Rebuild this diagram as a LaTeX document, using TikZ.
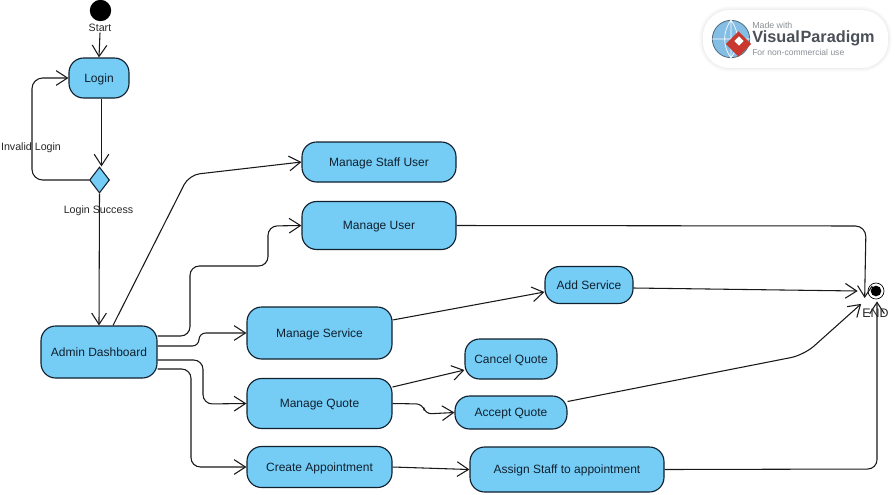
\documentclass[tikz,border=0pt]{standalone}
\usepackage{fontspec}
\setmainfont{Liberation Sans}
\usetikzlibrary{arrows.meta,calc,shapes.geometric,shadows.blur}
\definecolor{nodeblue}{HTML}{75CDF6}
\definecolor{inkblue}{HTML}{10202E}
\definecolor{vpgrey}{HTML}{4A5058}
\definecolor{vplight}{HTML}{8A8F95}
\definecolor{vpblue}{HTML}{5BA9DC}
\definecolor{vpred}{HTML}{C8382E}
\tikzset{
  x=0.75pt,y=-0.75pt,
  act/.style={draw=inkblue,line width=0.85pt,fill=nodeblue,rounded corners=11pt,inner sep=0pt,
    text height=6.4pt,text depth=0pt,
    font=\fontsize{9}{11}\selectfont,text=inkblue,anchor=center},
  lbl/.style={font=\fontsize{8}{10}\selectfont,text=black!85,inner sep=0.5pt},
  flow/.style={draw=black!90,line width=0.8pt,rounded corners=7pt,
    -{Straight Barb[length=8.5pt,width=11pt,line width=0.8pt]}},
}
\newcommand{\actnode}[6]{\node[act,minimum width=#3*0.75pt,minimum height=#4*0.75pt] (#1) at (#5,#6) {#2};}
\begin{document}
\begin{tikzpicture}
\useasboundingbox (0,0) rectangle (895,494);
% logo
\node[fill=white,rounded corners=20pt,minimum width=139pt,minimum height=43.5pt,inner sep=0pt,
  blur shadow={shadow blur steps=6,shadow xshift=0pt,shadow yshift=0pt,shadow blur radius=3pt,shadow opacity=15}] (logobox) at (795.5,39) {};
\node[circle,draw=vpgrey!70!vpblue,line width=0.6pt,fill=vpblue!75,minimum size=28pt,inner sep=0pt] (globe) at (731,39) {};
\draw[white,line width=0.5pt] (globe.north) -- (globe.south) (globe.west) -- (globe.east)
  (globe.north) to[bend left=35] (globe.south) (globe.north) to[bend right=35] (globe.south);
\node[diamond,fill=vpred,minimum size=19pt,inner sep=0pt] (gem) at (738.5,44) {};
\node[diamond,fill=white,minimum size=7pt,inner sep=0pt] (gemhole) at (739,41) {};
\node[anchor=west,inner sep=0pt,text=vplight,font=\fontsize{6.6}{8}\selectfont] (vp1) at (752,25) {Made with};
\node[anchor=west,inner sep=0pt,text=vpgrey,font=\fontsize{12.2}{14}\selectfont\bfseries] (vp2) at (752,38.5) {Visual\kern0.5pt Paradigm};
\node[anchor=west,inner sep=0pt,text=vplight,font=\fontsize{6.4}{8}\selectfont] (vp3) at (752,52.5) {For non-commercial use};
% start / end
\node[circle,fill=black,minimum size=16pt,inner sep=0pt] (start) at (100.5,10.5) {};
\node[lbl] (startl) at (100,28) {Start};
\node[circle,draw=black,line width=0.5pt,fill=white,minimum size=12pt,inner sep=0pt] (endo) at (876,291) {};
\node[circle,fill=black,minimum size=8pt,inner sep=0pt] (endi) at (876,291) {};
% activities
\actnode{login}{Login}{60}{40}{99}{78}
\node[diamond,draw=inkblue,line width=0.8pt,fill=nodeblue,inner sep=0pt,minimum width=15pt,minimum height=19.5pt] (dec) at (99.5,180) {};
\actnode{admin}{Admin Dashboard}{116}{52}{99}{352}
\actnode{staff}{Manage Staff User}{154}{40}{379}{162}
\actnode{user}{Manage User}{154}{48}{379}{225.5}
\actnode{addsvc}{Add Service}{88}{37}{589}{285}
\actnode{svc}{Manage Service}{145}{52}{319.5}{333}
\actnode{cancel}{Cancel Quote}{92}{40}{511}{359}
\actnode{accept}{Accept Quote}{112}{33}{511}{412.5}
\actnode{quote}{Manage Quote}{145}{50}{319.5}{403.5}
\actnode{create}{Create Appointment}{145}{41}{319.5}{467}
\actnode{assign}{Assign Staff to appointment}{194}{45}{567}{469.5}
% connectors
\draw[flow] (startl.south) -- (login.north);
\draw[flow] ($(login.south)+(2.5,0)$) -- ($(dec.north)+(2,0)$);
\draw[flow,rounded corners=8pt] (dec.west) -- (32,180) -- (32,78) -- (login.west);
\draw[flow] (dec.south) -- (admin.north);
\draw[flow,rounded corners=8pt] ($(admin.north)+(14,0)$) -- (189,175) -- (staff.west);
\draw[flow] ($(admin.east)+(0,-16)$) -- (190,336) -- (190,266) -- (268,266) -- (268,226) -- (user.west);
\draw[flow,rounded corners=5pt] ($(admin.east)+(0,-6)$) -- (199,346) -- (199,333) -- (svc.west);
\draw[flow] ($(admin.east)+(0,8)$) -- (203,360) -- (203,404) -- (quote.west);
\draw[flow] ($(admin.east)+(0,17)$) -- (191,369) -- (191,467) -- (create.west);
\draw[flow] ($(svc.east)+(0,-13)$) -- ($(addsvc.west)+(0,7)$);
\draw[flow] ($(quote.east)+(0,-16.5)$) -- ($(cancel.west)+(0,11)$);
\draw[flow,rounded corners=5pt] (quote.east) -- (423,404) -- (425,414) -- (accept.west);
\draw[flow] (create.east) -- (assign.west);
\draw[flow,rounded corners=8pt] (user.east) -- (866,226) -- ($(endo.west)+(-3,7)$);
\draw[flow] ($(addsvc.east)+(0,3)$) -- ($(endo.west)+(-10,0)$);
\draw[flow,rounded corners=10pt] ($(accept.east)+(0,-11)$) -- (804,355) -- ($(endo.south west)+(-9,7)$);
\draw[flow] (assign.east) -- (877,469) -- ($(endo.south)+(1,2)$);
% labels on flows
\node[lbl] (inv) at (31,147.5) {Invalid Login};
\node[lbl] (succ) at (98.5,210.5) {Login Success};
\node[lbl,font=\fontsize{9.3}{11}\selectfont] (endl) at (875.5,313.5) {END};
\end{tikzpicture}
\end{document}
